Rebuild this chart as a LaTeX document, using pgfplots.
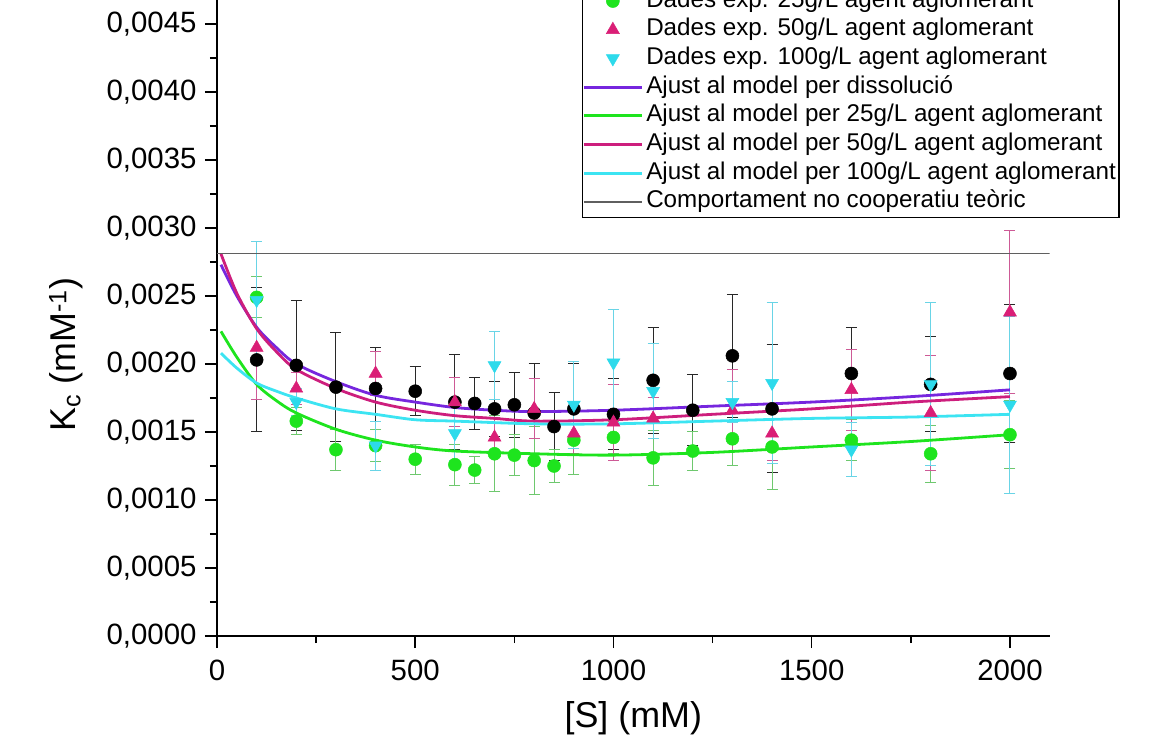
\documentclass[border=0pt]{standalone}
\usepackage{pgfplots}
\pgfplotsset{compat=1.18}
\usepackage{fontspec}
\setmainfont{Liberation Sans}
\definecolor{cgreen}{RGB}{30,228,30}
\definecolor{cgreenbar}{RGB}{110,200,110}
\definecolor{cmag}{RGB}{218,30,118}
\definecolor{cmagbar}{RGB}{205,90,150}
\definecolor{cmagline}{RGB}{205,30,125}
\definecolor{ccyan}{RGB}{45,218,235}
\definecolor{ccyanbar}{RGB}{105,212,230}
\definecolor{ccyanline}{RGB}{60,228,242}
\definecolor{cpurple}{RGB}{118,38,222}
\definecolor{cgray}{RGB}{95,95,95}
\definecolor{cblackbar}{RGB}{40,40,40}

\pgfplotstableread{
x y e
100 0.00203 0.00053
200 0.00199 0.00048
300 0.00183 0.00040
400 0.00182 0.00030
500 0.00180 0.00018
600 0.00172 0.00035
650 0.00171 0.00019
700 0.00167 0.00020
750 0.00170 0.00024
800 0.00164 0.00036
850 0.00154 0.00025
900 0.00167 0.00033
1000 0.00163 0.00026
1100 0.00188 0.00039
1200 0.00166 0.00026
1300 0.00206 0.00045
1400 0.00167 0.00047
1600 0.00193 0.00034
1800 0.00185 0.00035
2000 0.00193 0.00051
}\dissol

\pgfplotstableread{
x y e
100 0.00249 0.00015
200 0.00158 0.00010
300 0.00137 0.00015
400 0.00140 0.00012
500 0.00130 0.00011
600 0.00126 0.00015
650 0.00122 0.00010
700 0.00134 0.00028
750 0.00133 0.00015
800 0.00129 0.00025
850 0.00125 0.00012
900 0.00144 0.00025
1000 0.00146 0.00012
1100 0.00131 0.00020
1200 0.00136 0.00014
1300 0.00145 0.00020
1400 0.00139 0.00031
1600 0.00144 0.00015
1800 0.00134 0.00021
2000 0.00148 0.00025
}\gtwentyfive

\pgfplotstableread{
x y e
100 0.00212 0.00038
200 0.00182 0.00012
400 0.00193 0.00016
600 0.00172 0.00018
700 0.00146 0.00015
800 0.00167 0.00022
900 0.00149 0.00015
1000 0.00157 0.00028
1100 0.00160 0.00015
1300 0.00166 0.00030
1400 0.00149 0.00020
1600 0.00181 0.00030
1800 0.00164 0.00042
2000 0.00238 0.00060
}\gfifty

\pgfplotstableread{
x y e
100 0.00247 0.00043
200 0.00172 0.00010
400 0.00140 0.00018
600 0.00149 0.00020
700 0.00199 0.00025
900 0.00170 0.00032
1000 0.00201 0.00039
1100 0.00180 0.00035
1300 0.00172 0.00015
1400 0.00186 0.00059
1600 0.00137 0.00020
1800 0.00185 0.00060
2000 0.00170 0.00065
}\ghundred

\begin{document}
\begin{tikzpicture}
\useasboundingbox (-217bp,-115bp) rectangle (955bp,636bp);
\clip (-217bp,-115bp) rectangle (955bp,636bp);
\begin{pgfinterruptboundingbox}
\begin{axis}[
  at={(0,0)}, anchor=south west,
  scale only axis, width=832.6bp, height=680bp,
  xmin=0, xmax=2100, ymin=0, ymax=0.005,
  axis x line*=bottom, axis y line*=left,
  axis line style={line width=1.8bp, black},
  tick align=outside,
  major tick length=12bp, minor tick length=7bp,
  every tick/.style={black, line width=1.5bp},
  xtick={0,500,1000,1500,2000},
  ytick={0,0.0005,0.001,0.0015,0.002,0.0025,0.003,0.0035,0.004,0.0045},
  minor x tick num=1, minor y tick num=1,
  scaled y ticks=false, scaled x ticks=false,
  yticklabel style={/pgf/number format/.cd, fixed, fixed zerofill, precision=4, use comma, assume math mode=true, /tikz/.cd, xshift=-5bp},
  xticklabel style={/pgf/number format/.cd, 1000 sep={}, assume math mode=true, /tikz/.cd, yshift=-8bp},
  tick label style={font=\fontsize{29.5}{31}\selectfont},
  every axis x label/.style={at={(rel axis cs:0.5,0)}, anchor=center, yshift=-82bp, font=\fontsize{36}{38}\selectfont},
  every axis y label/.style={at={(rel axis cs:0,0.414)}, xshift=-151bp, rotate=90, anchor=center, font=\fontsize{36}{38}\selectfont},
  xlabel={[S] (mM)},
  ylabel={K\textsubscript{c} (mM\textsuperscript{-1})},
  legend image code/.code={\draw[mark repeat=2,mark phase=2,#1] plot coordinates {(0bp,0bp) (29bp,0bp) (58bp,0bp)};},
  legend cell align=left,
  legend style={at={(axis cs:920,0.0030735)}, anchor=south west, draw=black, line width=1.4bp, fill=white,
    font=\fontsize{24.3}{28}\selectfont, inner xsep=0bp, inner ysep=1bp, row sep=0bp, column sep=0bp,
    nodes={inner xsep=3bp, inner ysep=2.35bp, text height=18bp, text depth=6bp}},
]
\addplot[only marks, mark=*, mark size=6.5bp, mark options={solid, fill=black, draw=black, line width=0.5bp},
  error bars/.cd, y dir=both, y explicit,
  error bar style={line width=1bp, cblackbar},
  error mark options={rotate=90, mark size=5.5bp, line width=1bp, cblackbar}]
  table[x=x, y=y, y error=e] {\dissol};
\addlegendentry{Dades exp. dissolució}
\addplot[only marks, mark=*, mark size=6.5bp, mark options={solid, fill=cgreen, draw=cgreen, line width=0.5bp},
  error bars/.cd, y dir=both, y explicit,
  error bar style={line width=1bp, cgreenbar},
  error mark options={rotate=90, mark size=5.5bp, line width=1bp, cgreenbar}]
  table[x=x, y=y, y error=e] {\gtwentyfive};
\addlegendentry{Dades exp. 25g/L agent aglomerant}
\addplot[only marks, mark=triangle*, mark size=7.5bp, mark options={solid, fill=cmag, draw=cmag, line width=0.5bp},
  error bars/.cd, y dir=both, y explicit,
  error bar style={line width=1bp, cmagbar},
  error mark options={rotate=90, mark size=5.5bp, line width=1bp, cmagbar}]
  table[x=x, y=y, y error=e] {\gfifty};
\addlegendentry{Dades exp. 50g/L agent aglomerant}
\addplot[only marks, mark=triangle*, mark size=7.5bp, mark options={solid, rotate=180, fill=ccyan, draw=ccyan, line width=0.5bp},
  error bars/.cd, y dir=both, y explicit,
  error bar style={line width=1bp, ccyanbar},
  error mark options={rotate=90, mark size=5.5bp, line width=1bp, ccyanbar}]
  table[x=x, y=y, y error=e] {\ghundred};
\addlegendentry{Dades exp. 100g/L agent aglomerant}
\addplot[cpurple, line width=2.8bp, smooth, no markers] coordinates {
(10,0.00273) (50,0.00250) (100,0.00227) (150,0.00212) (200,0.00200) (300,0.00187) (400,0.00177) (500,0.00172) (600,0.00168) (700,0.00166) (800,0.00165) (1000,0.00166) (1250,0.00169) (1500,0.00172) (1750,0.00176) (2000,0.00181)};
\addlegendentry{Ajust al model per dissolució}
\addplot[cgreen, line width=2.8bp, smooth, no markers] coordinates {
(10,0.00224) (50,0.00205) (100,0.00185) (150,0.00173) (200,0.00164) (300,0.00152) (400,0.00144) (500,0.00139) (600,0.00136) (800,0.00134) (1000,0.00133) (1250,0.00135) (1500,0.00139) (1750,0.00143) (2000,0.00148)};
\addlegendentry{Ajust al model per 25g/L agent aglomerant}
\addplot[cmagline, line width=2.8bp, smooth, no markers] coordinates {
(10,0.00281) (50,0.00252) (100,0.00226) (150,0.00209) (200,0.00196) (300,0.00182) (400,0.00172) (500,0.00166) (600,0.00162) (700,0.00160) (800,0.00158) (1000,0.00159) (1250,0.00163) (1500,0.00167) (1750,0.00172) (2000,0.00176)};
\addlegendentry{Ajust al model per 50g/L agent aglomerant}
\addplot[ccyanline, line width=2.8bp, smooth, no markers] coordinates {
(10,0.00208) (50,0.00197) (100,0.00186) (150,0.00180) (200,0.00175) (300,0.00167) (400,0.00163) (500,0.00159) (600,0.00158) (800,0.00156) (1000,0.00156) (1250,0.00158) (1500,0.00160) (1750,0.00161) (2000,0.00163)};
\addlegendentry{Ajust al model per 100g/L agent aglomerant}
\addplot[cgray, line width=1.3bp, no markers] coordinates {(0,0.00281) (2100,0.00281)};
\addlegendentry{Comportament no cooperatiu teòric}
\end{axis}
\end{pgfinterruptboundingbox}
\end{tikzpicture}
\end{document}
